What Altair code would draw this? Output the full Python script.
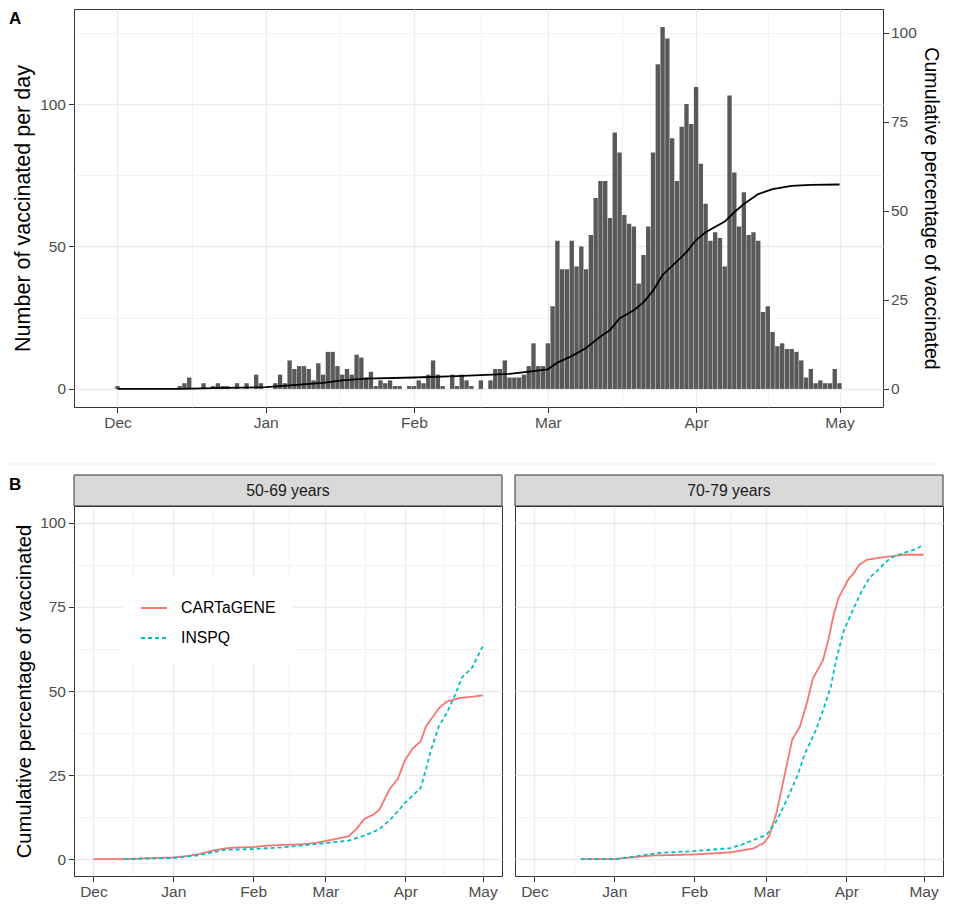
import altair as alt
import pandas as pd

START = pd.Timestamp("2020-12-01")

# ---------------- Panel A: daily vaccinated counts, Dec 1 2020 .. May 1 2021 ----------------
daily_counts = (
    # December
    [1, 0, 0, 0, 0, 0, 0, 0, 0, 0, 0, 0, 0, 1, 2, 4, 0, 0, 2, 0, 1, 2, 1, 1, 0, 2, 0, 2, 0, 5, 2]
    # January
    + [0, 0, 2, 5, 2, 10, 7, 8, 8, 7, 3, 9, 5, 13, 13, 8, 5, 7, 5, 12, 11, 4, 6, 1, 3, 2, 3, 1, 1, 0, 1]
    # February
    + [1, 3, 2, 5, 10, 5, 1, 0, 5, 1, 5, 3, 1, 0, 3, 0, 3, 7, 7, 10, 4, 4, 4, 5, 8, 16, 8, 8]
    # March
    + [16, 29, 52, 42, 42, 52, 43, 50, 42, 54, 67, 73, 73, 60, 90, 83, 61, 58, 57, 37, 47, 57, 83, 114, 127, 123, 88, 73, 92, 100, 93]
    # April
    + [106, 79, 65, 52, 55, 53, 43, 103, 76, 57, 69, 54, 55, 52, 27, 29, 20, 15, 16, 14, 14, 13, 10, 4, 7, 2, 3, 2, 2, 7]
    # May 1
    + [2]
)

# cumulative percentage line (day offset from Dec 1, percent)
cum_day = [0, 13, 20, 31, 36, 43, 47, 52, 62, 71, 82, 87, 90, 92, 95, 98, 101, 103, 105, 108, 110,
           112, 114, 117, 119, 121, 123, 127, 129, 131, 134, 137, 141, 145, 151]
cum_pct = [0, 0, 0.2, 0.5, 1.0, 1.7, 2.4, 2.9, 3.2, 3.6, 4.2, 5.0, 5.5, 7.4, 9.2, 11.5, 14.7, 16.5, 19.8, 22.1, 24.3,
           27.6, 32.0, 35.8, 38.4, 41.8, 44.0, 47.0, 49.6, 51.9, 54.7, 56.1, 57.0, 57.3, 57.4]

# ---------------- Panel B ----------------
age_groups = ["50-69 years", "70-79 years"]
sources = ["CARTaGENE", "INSPQ"]
source_colors = ["#F8766D", "#00BFC4"]

cart_5069_day = [0, 12, 21, 31, 36, 41, 46, 51, 56, 62, 67, 73, 80, 86, 90, 94, 99, 102, 105, 109, 111,
                 115, 118, 121, 124, 127, 129, 134, 137, 142, 146, 151]
cart_5069_pct = [0, 0, 0.3, 0.5, 0.9, 1.5, 2.5, 3.2, 3.5, 3.6, 4.0, 4.2, 4.4, 4.8, 5.4, 6.0, 6.8, 8.9, 11.9, 13.4, 14.8,
                 20.9, 23.7, 29.6, 33.0, 35.0, 39.4, 44.8, 46.8, 47.9, 48.2, 48.7]
inspq_5069_day = [12, 21, 31, 36, 41, 46, 51, 62, 73, 80, 90, 99, 105, 111, 116, 121, 127, 129, 131, 134,
                  137, 140, 143, 147, 151]
inspq_5069_pct = [0, 0.2, 0.4, 0.7, 1.2, 2.0, 2.8, 3.0, 3.5, 4.0, 4.8, 5.5, 7.0, 8.9, 12.4, 16.8, 21.2, 26.6, 32.5, 39.4,
                  43.3, 48.2, 54.0, 57.0, 63.2]
cart_7079_day = [18, 31, 37, 46, 62, 76, 85, 89, 91, 94, 97, 100, 103, 106, 108, 112, 114, 116, 118, 122,
                 124, 126, 129, 133, 138, 143, 151]
cart_7079_pct = [0, 0, 0.5, 1.1, 1.4, 2.0, 3.2, 4.8, 6.8, 13.9, 24.7, 35.5, 39.4, 47.2, 53.6, 59.2, 65.0, 72.3, 77.7, 83.4,
                 85.1, 87.5, 89.0, 89.5, 90.0, 90.5, 90.5]
inspq_7079_day = [18, 31, 37, 49, 62, 76, 81, 86, 90, 94, 98, 102, 105, 109, 112, 115, 117, 120, 124, 127,
                  130, 134, 138, 143, 147, 151]
inspq_7079_pct = [0, 0, 0.6, 1.9, 2.4, 3.3, 4.5, 6.0, 7.2, 11.4, 17.8, 24.7, 31.5, 37.9, 44.3, 51.2, 59.0, 67.9, 74.8, 79.7,
                  83.6, 86.5, 89.5, 91.0, 91.9, 93.4]

panel_labels = ["A", "B"]

# axis break positions (month starts = major, mid-months = minor)
month_starts = [(2020, 12, 1, 0), (2021, 1, 1, 0), (2021, 2, 1, 0), (2021, 3, 1, 0), (2021, 4, 1, 0), (2021, 5, 1, 0)]
mid_months = [(2020, 12, 16, 12), (2021, 1, 16, 12), (2021, 2, 15, 0), (2021, 3, 16, 12), (2021, 4, 16, 0)]


def iso(d):
    return (START + pd.Timedelta(days=d)).strftime("%Y-%m-%dT%H:%M:%S")


def dt(y, m, d, h=0, mi=0):
    return alt.DateTime(year=y, month=m, date=d, hours=h, minutes=mi)


bars_df = pd.DataFrame({"date": [iso(i) for i in range(len(daily_counts))], "n": daily_counts})
bars_df = bars_df[bars_df["n"] > 0]
cum_df = pd.DataFrame({"date": [iso(d) for d in cum_day], "pct": cum_pct})

rows = []
for grp, src, days, pcts in [
    (age_groups[0], sources[0], cart_5069_day, cart_5069_pct),
    (age_groups[0], sources[1], inspq_5069_day, inspq_5069_pct),
    (age_groups[1], sources[0], cart_7079_day, cart_7079_pct),
    (age_groups[1], sources[1], inspq_7079_day, inspq_7079_pct),
]:
    for d, p in zip(days, pcts):
        rows.append({"group": grp, "source": src, "date": iso(d), "pct": p})
b_df = pd.DataFrame(rows)

FONT = "Liberation Sans"
GRID = "#EBEBEB"
MAJOR_W = 1.3
MINOR_W = 0.6

x_values = [dt(*t) for t in month_starts] + [dt(*t) for t in mid_months]
x_major_test = "date(datum.value) == 1 && hours(datum.value) == 0"


def x_axis():
    return alt.Axis(
        values=x_values,
        format="%b",
        labelExpr=f"({x_major_test}) ? datum.label : ''",
        tickOpacity={"condition": {"test": x_major_test, "value": 1}, "value": 0},
        gridWidth={"condition": {"test": x_major_test, "value": MAJOR_W}, "value": MINOR_W},
        title=None,
        labelOverlap=False,
        labelFlush=False,
        labelPadding=3,
        tickSize=5.5,
    )


# ---------------- Panel A ----------------
A_W, A_H = 809, 398
xA = alt.Scale(domain=[dt(2020, 11, 22, 22, 48), dt(2021, 5, 9, 1, 12)], nice=False)

bars = alt.Chart(bars_df).mark_bar(color="#595959", size=4.36).encode(
    x=alt.X("date:T", scale=xA, axis=x_axis()),
    y=alt.Y(
        "n:Q",
        scale=alt.Scale(domain=[-6.35, 133.35], nice=False, zero=False),
        axis=alt.Axis(
            values=[0, 25, 50, 75, 100, 125],
            labelExpr="datum.value % 50 == 0 ? datum.label : ''",
            tickOpacity={"condition": {"test": "datum.value % 50 == 0", "value": 1}, "value": 0},
            gridWidth={"condition": {"test": "datum.value % 50 == 0", "value": MAJOR_W}, "value": MINOR_W},
            title="Number of vaccinated per day",
            titleFontSize=21.5,
            titlePadding=5,
            labelPadding=3,
            tickSize=5.5,
        ),
    ),
)

cum_line = alt.Chart(cum_df).mark_line(color="black", strokeWidth=1.8).encode(
    x=alt.X("date:T", scale=xA),
    y=alt.Y(
        "pct:Q",
        scale=alt.Scale(domain=[-5.08, 106.68], nice=False, zero=False),
        axis=alt.Axis(
            orient="right",
            values=[0, 25, 50, 75, 100],
            grid=False,
            title="Cumulative percentage of vaccinated",
            titleFontSize=19.6,
            titlePadding=4,
            labelPadding=2,
            tickSize=5.5,
        ),
    ),
)

label_A = alt.Chart(alt.Data(values=[{"lab": panel_labels[0]}])).mark_text(
    align="left", baseline="middle", fontSize=17, fontWeight="bold", font=FONT, color="black"
).encode(text="lab:N", x=alt.value(-65), y=alt.value(10))

separator = alt.Chart(alt.Data(values=[{"lab": panel_labels[0]}])).mark_rule(
    color="#EBEBEB", strokeWidth=1
).encode(x=alt.value(-65), x2=alt.value(866), y=alt.value(A_H + 57))

panelA = alt.layer(bars, cum_line, label_A, separator).resolve_scale(y="independent").properties(
    width=A_W, height=A_H
)

# ---------------- Panel B ----------------
B_W, B_H = 428, 370
STRIP_H = 31
xB = alt.Scale(domain=[dt(2020, 11, 23, 10, 48), dt(2021, 5, 8, 13, 12)], nice=False)
yB_values = [0, 12.5, 25, 37.5, 50, 62.5, 75, 87.5, 100]
yB_major = "datum.value % 25 == 0"


def b_panel(i):
    grp = age_groups[i]
    first = i == 0
    legend = (
        alt.Legend(
            orient="none",
            legendX=49,
            legendY=71,
            title=None,
            fillColor="white",
            padding=17,
            symbolType="stroke",
            symbolSize=676,
            symbolStrokeWidth=1.8,
            labelFontSize=15.8,
            labelColor="black",
            labelFont=FONT,
            labelOffset=13,
            rowPadding=8,
        )
        if first
        else None
    )
    if first:
        yaxis = alt.Axis(
            values=yB_values,
            labelExpr=f"{yB_major} ? datum.label : ''",
            tickOpacity={"condition": {"test": yB_major, "value": 1}, "value": 0},
            gridWidth={"condition": {"test": yB_major, "value": MAJOR_W}, "value": MINOR_W},
            title="Cumulative percentage of vaccinated",
            titleFontSize=20.3,
            titlePadding=5,
            labelPadding=3,
            tickSize=5.5,
        )
    else:
        yaxis = alt.Axis(
            values=yB_values,
            labels=False,
            ticks=False,
            title=None,
            gridWidth={"condition": {"test": yB_major, "value": MAJOR_W}, "value": MINOR_W},
        )

    lines = alt.Chart(b_df).transform_filter(alt.datum.group == grp).mark_line(strokeWidth=1.8).encode(
        x=alt.X("date:T", scale=xB, axis=x_axis()),
        y=alt.Y("pct:Q", scale=alt.Scale(domain=[-5, 105], nice=False, zero=False), axis=yaxis),
        color=alt.Color("source:N", scale=alt.Scale(domain=sources, range=source_colors), legend=legend),
        strokeDash=alt.StrokeDash(
            "source:N", scale=alt.Scale(domain=sources, range=[[1, 0], [4, 3]]), legend=legend
        ),
        detail="source:N",
    )

    strip_data = alt.Data(values=[{"g": grp}])
    strip_rect = alt.Chart(strip_data).mark_rect(fill="#D9D9D9", stroke="#333333", strokeWidth=1).encode(
        x=alt.value(0), x2=alt.value(B_W), y=alt.value(-STRIP_H), y2=alt.value(0)
    )
    strip_text = alt.Chart(strip_data).mark_text(
        fontSize=15.8, font=FONT, color="#1A1A1A", baseline="middle", align="center"
    ).encode(text="g:N", x=alt.value(B_W / 2), y=alt.value(-STRIP_H / 2))

    layers = [lines, strip_rect, strip_text]
    if first:
        label_B = alt.Chart(alt.Data(values=[{"lab": panel_labels[1]}])).mark_text(
            align="left", baseline="middle", fontSize=17, fontWeight="bold", font=FONT, color="black"
        ).encode(text="lab:N", x=alt.value(-65), y=alt.value(-21))
        layers.append(label_B)
    return alt.layer(*layers).properties(width=B_W, height=B_H)


panelB = alt.hconcat(b_panel(0), b_panel(1), spacing=11).resolve_legend(
    color="independent", strokeDash="independent"
)

chart = (
    alt.vconcat(panelA, panelB, spacing=9)
    .properties(padding={"left": 0, "top": 0, "right": 0, "bottom": 0})
    .configure(font=FONT)
    .configure_axis(
        labelFontSize=15.5,
        labelColor="#4D4D4D",
        labelFont=FONT,
        titleFont=FONT,
        titleFontSize=20,
        titleFontWeight="normal",
        titleColor="black",
        tickColor="#333333",
        tickWidth=1,
        domain=False,
        gridColor=GRID,
    )
    .configure_view(stroke="#333333", strokeWidth=1)
)

chart.save("out.html", embed_options={"renderer": "svg", "actions": False})
